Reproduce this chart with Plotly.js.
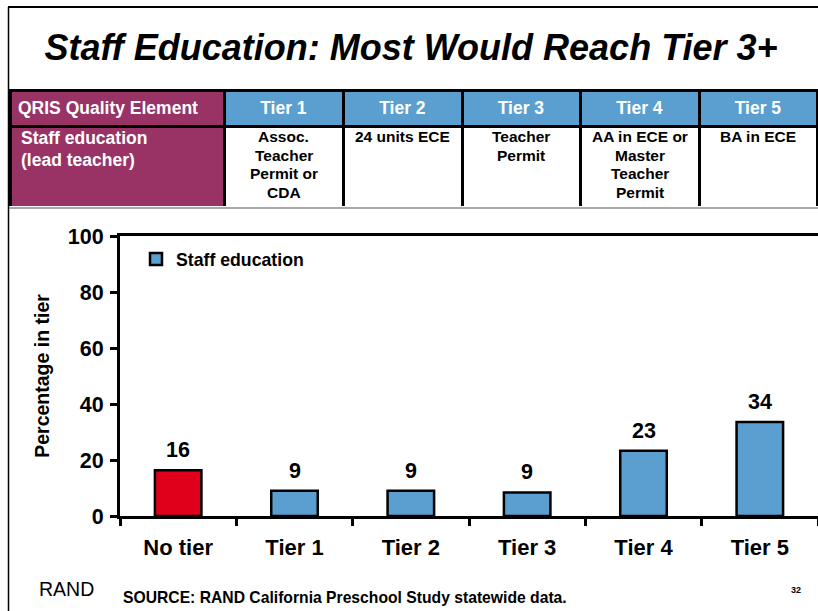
<!DOCTYPE html>
<html>
<head>
<meta charset="utf-8">
<script src="https://cdn.plot.ly/plotly-3.0.1.min.js"></script>
<style>
  html, body { margin: 0; padding: 0; background: #ffffff; }
  #chart { width: 818px; height: 611px; }
</style>
</head>
<body>
<div id="chart"></div>
<script>
// ---- Data ----
const categories = ['No tier', 'Tier 1', 'Tier 2', 'Tier 3', 'Tier 4', 'Tier 5'];
const percentages = [16.3, 9.0, 9.0, 8.4, 23.3, 33.6];
const valueLabels = ['16', '9', '9', '9', '23', '34'];
const seriesName = 'Staff education';

const tableHeader = ['QRIS Quality Element', 'Tier 1', 'Tier 2', 'Tier 3', 'Tier 4', 'Tier 5'];
const tableRowLabel = ['Staff education', '(lead teacher)'];
const tierRequirements = [
  ['Assoc.', 'Teacher', 'Permit or', 'CDA'],
  ['24 units ECE'],
  ['Teacher', 'Permit'],
  ['AA in ECE or', 'Master', 'Teacher', 'Permit'],
  ['BA in ECE']
];

const titleText = 'Staff Education: Most Would Reach Tier 3+';
const yTitle = 'Percentage in tier';
const sourceText = 'SOURCE: RAND California Preschool Study statewide data.';
const logoText = 'RAND';
const pageNumber = '32';

// ---- Helpers ----
const W = 818, H = 611;
const px = x => x / W;
const py = y => 1 - y / H;

const FONT = 'Liberation Sans, Arial, Helvetica, sans-serif';
const BLUE = '#5A9FD0';
const RED = '#E0001B';
const MAROON = '#993366';

// table geometry (pixels)
const colEdges = [10, 224, 343, 462, 580, 699, 817];
const tableTop = 90, headerBottom = 122, tableBottom = 207;

// ---- Traces ----
const redTrace = {
  type: 'bar',
  x: categories.slice(0, 1),
  y: percentages.slice(0, 1),
  marker: { color: RED, line: { color: '#000', width: 2.5 } },
  showlegend: false,
  hoverinfo: 'x+y',
  xaxis: 'x', yaxis: 'y'
};

const blueTrace = {
  type: 'bar',
  name: seriesName,
  x: categories.slice(1),
  y: percentages.slice(1),
  marker: { color: BLUE, line: { color: '#000', width: 2.5 } },
  hoverinfo: 'x+y',
  xaxis: 'x', yaxis: 'y'
};

const tableTrace = {
  type: 'table',
  domain: { x: [px(colEdges[0]), px(colEdges[6])], y: [py(tableBottom), py(tableTop)] },
  columnwidth: colEdges.slice(1).map((e, i) => e - colEdges[i]),
  header: {
    values: tableHeader.map(t => '<b>' + t + '</b>'),
    align: ['left', 'center', 'center', 'center', 'center', 'center'],
    fill: { color: [MAROON, BLUE, BLUE, BLUE, BLUE, BLUE] },
    line: { color: '#000', width: 3 },
    font: { family: FONT, size: 17.5, color: '#ffffff' },
    height: headerBottom - tableTop
  },
  cells: {
    values: [['']].concat(tierRequirements.map(() => [''])),
    fill: { color: [[MAROON], ['#fff'], ['#fff'], ['#fff'], ['#fff'], ['#fff']] },
    line: { color: '#000', width: 3 },
    font: { family: FONT, size: 15.5, color: '#000' },
    height: tableBottom - headerBottom
  }
};

// ---- Annotations ----
const annotations = [];

// bar value labels, placed in data coordinates above each bar
categories.forEach((c, i) => {
  annotations.push({
    text: '<b>' + valueLabels[i] + '</b>',
    x: c, y: percentages[i], xref: 'x', yref: 'y',
    xanchor: 'center', yanchor: 'middle', yshift: 20,
    showarrow: false,
    font: { family: FONT, size: 21.5, color: '#000' }
  });
});

// table row label (left-aligned, white on maroon)
tableRowLabel.forEach((line, li) => {
  annotations.push({
    text: '<b>' + line + '</b>',
    xref: 'paper', yref: 'paper',
    x: px(colEdges[0] + 9), y: py(138 + 22 * li),
    xanchor: 'left', yanchor: 'middle', showarrow: false,
    font: { family: FONT, size: 17.5, color: '#ffffff' }
  });
});

// table requirement cells (centered lines)
tierRequirements.forEach((lines, ci) => {
  const cx = (colEdges[ci + 1] + colEdges[ci + 2]) / 2;
  lines.forEach((line, li) => {
    annotations.push({
      text: '<b>' + line + '</b>',
      xref: 'paper', yref: 'paper',
      x: px(cx), y: py(137 + 18.4 * li),
      xanchor: 'center', yanchor: 'middle', showarrow: false,
      font: { family: FONT, size: 15.5, color: '#000' }
    });
  });
});

// footer
annotations.push(
  { text: logoText, xref: 'paper', yref: 'paper', x: px(66), y: py(589),
    xanchor: 'center', yanchor: 'middle', showarrow: false,
    font: { family: FONT, size: 19.5, color: '#000' } },
  { text: '<b>' + sourceText + '</b>', xref: 'paper', yref: 'paper', x: px(121), y: py(597),
    xanchor: 'left', yanchor: 'middle', showarrow: false,
    font: { family: FONT, size: 15.7, color: '#000' } },
  { text: '<b>' + pageNumber + '</b>', xref: 'paper', yref: 'paper', x: px(796), y: py(590),
    xanchor: 'center', yanchor: 'middle', showarrow: false,
    font: { family: FONT, size: 9, color: '#000' } }
);

// ---- Layout ----
const layout = {
  width: W, height: H,
  margin: { l: 0, r: 0, t: 0, b: 0, pad: 0 },
  paper_bgcolor: '#ffffff',
  plot_bgcolor: '#ffffff',
  font: { family: FONT, color: '#000' },
  barmode: 'overlay',
  bargap: 0.6,
  showlegend: true,
  title: {
    text: '<b><i>' + titleText + '</i></b>',
    font: { family: FONT, size: 36, color: '#000' },
    x: px(411), xanchor: 'center', xref: 'paper',
    y: py(47), yanchor: 'middle', yref: 'paper'
  },
  legend: {
    x: px(136), y: py(241), xanchor: 'left', yanchor: 'top',
    bgcolor: 'rgba(0,0,0,0)',
    font: { family: FONT, size: 17.7, color: '#000', weight: 'bold' },
    borderwidth: 0
  },
  xaxis: {
    domain: [px(120), 1],
    type: 'category',
    categoryorder: 'array',
    categoryarray: categories,
    tickson: 'boundaries',
    ticks: 'outside', ticklen: 7, tickwidth: 3, tickcolor: '#000',
    showline: true, linewidth: 3, linecolor: '#000', mirror: true,
    showgrid: false, zeroline: false,
    tickfont: { family: FONT, size: 22, color: '#000', weight: 'bold' },
    ticklabelstandoff: 10,
    fixedrange: true
  },
  yaxis: {
    domain: [py(516), py(236)],
    range: [0, 100],
    dtick: 20,
    ticks: 'outside', ticklen: 7, tickwidth: 3, tickcolor: '#000',
    showline: true, linewidth: 3, linecolor: '#000', mirror: false,
    showgrid: false, zeroline: false,
    tickfont: { family: FONT, size: 21.5, color: '#000', weight: 'bold' },
    ticklabelstandoff: 2,
    title: {
      text: '<b>' + yTitle + '</b>',
      font: { family: FONT, size: 19.5, color: '#000' },
      standoff: 14
    },
    fixedrange: true
  },
  shapes: [
    { type: 'line', xref: 'paper', yref: 'paper', x0: px(8), x1: 1, y0: py(7), y1: py(7),
      line: { color: '#000', width: 2 } },
    { type: 'line', xref: 'paper', yref: 'paper', x0: px(8.5), x1: px(8.5), y0: 0, y1: py(7),
      line: { color: '#000', width: 1.5 } },
    { type: 'line', xref: 'paper', yref: 'paper', x0: px(9), x1: 1, y0: py(208), y1: py(208),
      line: { color: '#555', width: 1.2 } }
  ],
  annotations: annotations
};

Plotly.newPlot('chart', [tableTrace, redTrace, blueTrace], layout, { displayModeBar: false });
</script>
</body>
</html>
